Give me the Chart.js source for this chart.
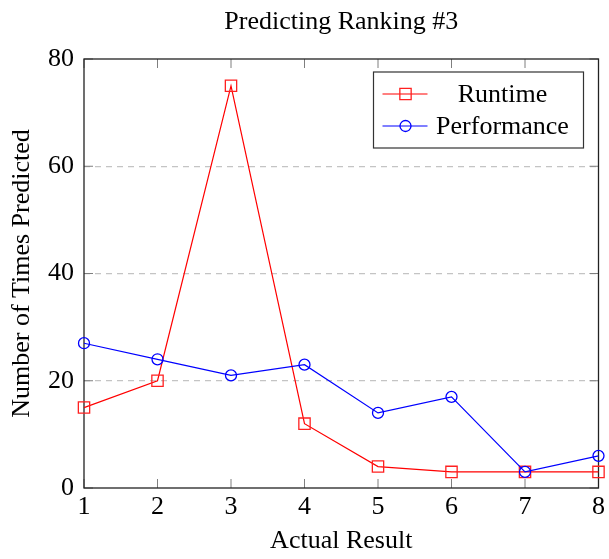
<!DOCTYPE html>
<html>
<head>
<meta charset="utf-8">
<script src="https://cdn.jsdelivr.net/npm/chart.js@4"></script>
<style>
  html, body { margin: 0; padding: 0; background: #fff; }
  #wrap { width: 609px; height: 559px; }
</style>
</head>
<body>
<div id="wrap"><canvas id="chart" width="609" height="559"></canvas></div>
<script>
// --- Data ---
const categories = ['1', '2', '3', '4', '5', '6', '7', '8'];
const runtime = [15, 20, 75, 12, 4, 3, 3, 3];
const performance = [27, 24, 21, 23, 14, 17, 3, 6];
const yTicks = [0, 20, 40, 60, 80];
const titleText = 'Predicting Ranking #3';

const SERIF = "'Liberation Serif', 'Times New Roman', serif";

// --- Frame + inward ticks (pgfplots style) ---
const framePlugin = {
  id: 'frame',
  beforeDatasetsDraw(chart) {
    const { ctx, chartArea: a, scales } = chart;
    ctx.save();
    ctx.strokeStyle = '#7f7f7f';
    ctx.lineWidth = 1;
    const len = 9;
    categories.forEach((c, i) => {
      const x = scales.x.getPixelForValue(i);
      ctx.beginPath();
      ctx.moveTo(x, a.bottom); ctx.lineTo(x, a.bottom - len);
      ctx.moveTo(x, a.top); ctx.lineTo(x, a.top + len);
      ctx.stroke();
    });
    yTicks.forEach(v => {
      const y = scales.y.getPixelForValue(v);
      ctx.beginPath();
      ctx.moveTo(a.left, y); ctx.lineTo(a.left + len, y);
      ctx.moveTo(a.right, y); ctx.lineTo(a.right - len, y);
      ctx.stroke();
    });
    ctx.strokeStyle = '#222';
    ctx.lineWidth = 1.3;
    ctx.strokeRect(a.left, a.top, a.right - a.left, a.bottom - a.top);
    ctx.restore();
  }
};

// --- Title centred over the plot area, boxed legend top right ---
const overlayPlugin = {
  id: 'overlay',
  afterDraw(chart) {
    const { ctx, chartArea: a } = chart;
    ctx.save();
    ctx.fillStyle = '#000';
    ctx.font = '26px ' + SERIF;
    ctx.textAlign = 'center';
    ctx.textBaseline = 'middle';
    ctx.fillText(titleText, (a.left + a.right) / 2, 22);

    const left = a.right - 225, top = a.top + 13, w = 210, h = 76;
    ctx.fillStyle = '#fff';
    ctx.fillRect(left, top, w, h);
    ctx.strokeStyle = '#333';
    ctx.lineWidth = 1.2;
    ctx.strokeRect(left, top, w, h);
    chart.data.datasets.forEach((ds, i) => {
      const y = top + 22 + i * 32;
      ctx.strokeStyle = ds.borderColor;
      ctx.lineWidth = ds.borderWidth;
      ctx.beginPath();
      ctx.moveTo(left + 9, y); ctx.lineTo(left + 54, y);
      ctx.stroke();
      ctx.lineWidth = ds.pointBorderWidth;
      ctx.strokeStyle = ds.pointBorderColor;
      ctx.fillStyle = 'rgba(0,0,0,0)';
      Chart.helpers.drawPoint(ctx, {
        pointStyle: ds.pointStyle, radius: ds.pointRadius, borderWidth: ds.pointBorderWidth, rotation: 0
      }, left + 32, y);
      ctx.fillStyle = '#000';
      ctx.fillText(ds.label, left + 129, y + 1);
    });
    ctx.restore();
  }
};

new Chart(document.getElementById('chart'), {
  type: 'line',
  data: {
    labels: categories,
    datasets: [
      {
        label: 'Runtime',
        data: runtime,
        borderColor: '#ff0000',
        borderWidth: 1.2,
        pointStyle: 'rect',
        pointRadius: 8,
        pointBorderWidth: 1.3,
        pointBorderColor: '#ff2020',
        pointBackgroundColor: 'rgba(0,0,0,0)',
        tension: 0,
        order: 1,
      },
      {
        label: 'Performance',
        data: performance,
        borderColor: '#0000ff',
        borderWidth: 1.2,
        pointStyle: 'circle',
        pointRadius: 5.5,
        pointBorderWidth: 1.3,
        pointBorderColor: '#0000ff',
        pointBackgroundColor: 'rgba(0,0,0,0)',
        tension: 0,
        order: 0,
      },
    ],
  },
  options: {
    responsive: false,
    animation: false,
    layout: { padding: { left: 0, right: 7, top: 59, bottom: 0 } },
    plugins: {
      legend: { display: false },
      tooltip: { enabled: false },
      title: { display: false },
    },
    scales: {
      x: {
        type: 'category',
        offset: false,
        grid: { display: false, drawTicks: false },
        border: { display: false },
        ticks: { color: '#000', font: { family: SERIF, size: 26 }, padding: 4, maxRotation: 0 },
        title: {
          display: true,
          text: 'Actual Result',
          color: '#000',
          font: { family: SERIF, size: 26, lineHeight: 1 },
          padding: { top: 0, bottom: 5 },
        },
        afterFit: s => { s.height = 71; },
      },
      y: {
        min: 0,
        max: 80,
        afterBuildTicks: s => { s.ticks = yTicks.map(v => ({ value: v })); },
        grid: {
          drawTicks: false,
          color: c => (c.tick && c.tick.value > 0 && c.tick.value < 80) ? '#c4c4c4' : 'rgba(0,0,0,0)',
          lineWidth: 1.2,
        },
        border: { display: false, dash: [6, 5] },
        ticks: { color: '#000', font: { family: SERIF, size: 26 }, padding: 10 },
        title: {
          display: true,
          text: 'Number of Times Predicted',
          color: '#000',
          font: { family: SERIF, size: 26, lineHeight: 1 },
          padding: { top: 9, bottom: 0 },
        },
        afterFit: s => { s.width = 84; },
      },
    },
  },
  plugins: [framePlugin, overlayPlugin],
});
</script>
</body>
</html>
